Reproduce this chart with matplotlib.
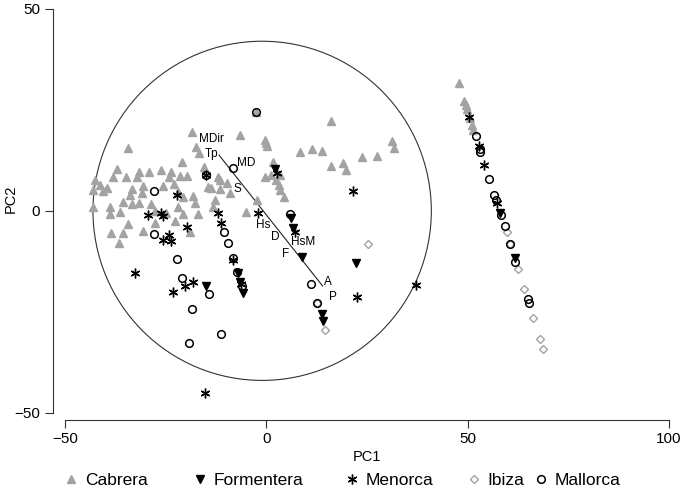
import matplotlib
matplotlib.use("Agg")
import matplotlib.pyplot as plt
from matplotlib.lines import Line2D
from matplotlib.patches import Circle

plt.rcParams["font.family"] = ["Liberation Sans", "DejaVu Sans"]

# ---- data (PC scores) ----
cabrera_x = [-18.3, -6.4, -34.4, -17.3, -16.6, -0.3, 0.1, -0.1, -21.0, -37.0, -31.5, -29.1,
             -26.1, -23.7, -21.4, -19.6, -15.5, -38.0, -34.8, -32.0, -24.1, -42.5, -41.3,
             -39.6, -33.4, -30.5, -25.7, -22.8, -11.9, -9.8, -14.4, 1.3, -0.3, -43.0, -40.5,
             -33.8, -30.9, -21.9, -20.6, -18.1, -11.5, -12.7, -9.0, -35.5, -33.4, -31.5,
             -28.5, -21.9, -17.7, -38.8, -43.0, -38.8, -36.3, -27.6, -24.9, -20.6, -16.9,
             -13.2, -4.9, -34.3, -27.6, -22.7, -38.4, -35.5, -30.5, -18.9, -36.5, 3.4,
             8.4, 11.3, 13.8, 16.0, 16.2, 19.1, 19.7, 23.7, 27.4, 1.7, 2.4, 3.2, 3.4, 4.4,
             -2.2, -11.5, -13.6, 31.2, 31.7, -2.4,
             47.9, 49.1, 49.6, 49.8, 50.6, 51.2, 51.4]
cabrera_y = [19.6, 18.8, 15.5, 15.7, 14.2, 17.5, 16.1, 16.9, 12.2, 10.3, 9.7, 9.5,
             10.1, 9.5, 8.7, 8.7, 10.8, 8.4, 8.4, 8.3, 8.4, 7.6, 6.4,
             5.6, 5.3, 6.1, 6.1, 6.6, 8.3, 7.0, 5.8, 8.9, 8.4, 5.2, 5.0,
             3.9, 4.3, 4.6, 3.5, 3.7, 5.3, 2.7, 4.5, 2.3, 1.7, 2.0,
             1.7, 1.0, 2.0, 1.0, 1.0, -0.8, -0.2, 0.0, -0.5, -0.8, -0.8,
             1.0, -0.2, -3.3, -3.1, -2.6, -5.4, -5.6, -4.9, -5.2, -7.9, 8.9,
             14.6, 15.2, 14.9, 22.2, 11.1, 11.9, 10.1, 13.4, 13.6, 12.2, 7.6, 6.4, 5.2, 3.3,
             2.7, 7.6, 5.6, 17.3, 15.5, 24.5,
             31.6, 27.3, 26.2, 25.1, 22.9, 21.3, 20.0]

formentera_x = [2.2, 6.1, 6.7, 9.0, 22.4, 13.8, 14.2, -7.0, -6.5, -5.7, -15.0, 58.0, 61.8]
formentera_y = [10.3, -1.9, -4.3, -11.4, -13.0, -25.6, -27.3, -15.4, -17.6, -20.4, -18.5, -0.6, -11.8]

menorca_x = [-22.2, -26.1, -25.7, -29.3, -11.9, -11.1, -19.6, -24.1, -23.7, -25.7, -2.0,
             -15.0, 2.6, 7.1, 21.5, 22.6, -8.3, -18.1, -20.2, -6.3, -32.6, -23.2, -15.2,
             37.2, 50.4, 52.9, 54.1, 57.4]
menorca_y = [3.9, -0.6, -1.3, -1.0, -0.6, -3.1, -3.9, -6.0, -7.4, -7.2, -0.6,
             8.9, 9.3, -5.2, 5.0, -21.4, -12.2, -17.6, -18.6, -18.0, -15.5, -20.0, -45.1,
             -18.4, 23.3, 16.1, 11.3, 1.9]

ibiza_x = [25.3, 14.6, 12.5, 59.7, 60.5, 62.6, 64.1, 66.3, 68.0, 68.8]
ibiza_y = [-8.1, -29.4, -22.8, -5.2, -8.2, -14.5, -19.4, -26.5, -31.8, -34.1]

mallorca_x = [-2.4, -8.3, -27.9, -15.0, -10.5, -9.4, -27.9, -22.2, -8.3, 5.9, 11.1, 12.5,
              -7.2, -6.1, -14.2, -20.8, -18.3, -11.1, -19.1,
              52.0, 53.1, 53.2, 55.4, 56.6, 57.0, 58.2, 59.3, 60.5, 61.8, 65.1, 65.3]
mallorca_y = [24.5, 10.5, 5.0, 8.9, -5.3, -7.9, -5.7, -12.0, -11.8, -0.9, -18.0, -22.8,
              -15.1, -18.6, -20.7, -16.6, -24.4, -30.6, -32.7,
              18.5, 15.2, 14.6, 7.9, 3.9, 2.8, -1.0, -3.8, -8.1, -12.6, -21.9, -22.8]

# variable vector (biplot axis) and its labels
vector_x = [-11.7, 14.0]
vector_y = [13.8, -18.6]
var_labels = ["MDir", "Tp", "MD", "S", "Hs", "D", "HsM", "F", "A", "P"]
var_x = [-16.7, -15.2, -7.3, -8.0, -2.6, 1.2, 6.1, 3.9, 14.3, 15.6]
var_y = [17.8, 14.1, 11.8, 5.4, -3.5, -6.5, -7.7, -10.7, -17.6, -21.4]

circle_center = (-1.0, 0.0)
circle_radius = 42.0

GREY = "#a3a3a3"
STAR = (6, 2, 0)

fig = plt.figure(figsize=(6.84, 4.90), dpi=100)
ax = fig.add_axes([0.077, 0.1429, 0.904, 0.843])

ax.add_patch(Circle(circle_center, circle_radius, fill=False, lw=0.8, ec="#333333"))
ax.plot(vector_x, vector_y, color="#222222", lw=0.8)
for lab, tx, ty in zip(var_labels, var_x, var_y):
    ax.text(tx, ty, lab, fontsize=8.5, ha="left", va="center")

styles = {
    "Cabrera": dict(marker="^", ms=6.3, color=GREY, mec=GREY, ls="none"),
    "Formentera": dict(marker="v", ms=6.3, color="black", ls="none"),
    "Menorca": dict(marker=STAR, ms=7, color="black", mew=1.0, ls="none"),
    "Ibiza": dict(marker="D", ms=4.0, mfc="none", mec=GREY, mew=1.0, ls="none"),
    "Mallorca": dict(marker="o", ms=5.5, mfc="none", mec="black", mew=1.1, ls="none"),
}
series = {
    "Cabrera": (cabrera_x, cabrera_y),
    "Formentera": (formentera_x, formentera_y),
    "Menorca": (menorca_x, menorca_y),
    "Ibiza": (ibiza_x, ibiza_y),
    "Mallorca": (mallorca_x, mallorca_y),
}
for name, (xs, ys) in series.items():
    ax.plot(xs, ys, **styles[name])

ax.set_xlim(-53, 100.5)
ax.set_ylim(-51.8, 50.5)
for s in ("top", "right"):
    ax.spines[s].set_visible(False)
ax.spines["left"].set_bounds(-50, 50)
ax.spines["bottom"].set_bounds(-50, 100)
for s in ("left", "bottom"):
    ax.spines[s].set_linewidth(0.8)
    ax.spines[s].set_color("#333333")
ax.set_xticks([-50, 0, 50, 100])
ax.set_yticks([-50, 0, 50])
ax.tick_params(direction="out", length=6, width=0.8, color="#333333",
               labelsize=11, pad=3)
ax.set_xlabel("PC1", fontsize=10.5)
ax.set_ylabel("PC2", fontsize=10.5)
ax.xaxis.set_label_coords(0.508, -0.073)
ax.yaxis.set_label_coords(-0.057, 0.535)

# legend, one entry at a time along the bottom
legend_x = [64, 193, 345, 467, 534]
for name, lx in zip(series, legend_x):
    h = Line2D([], [], **styles[name])
    fig.legend(handles=[h], labels=[name], loc="center left",
               bbox_to_anchor=(lx / 684, 10 / 490), frameon=False,
               fontsize=12.5, handlelength=0.8, handletextpad=0.4,
               borderpad=0, borderaxespad=0)

fig.savefig("out.png", dpi=100)
